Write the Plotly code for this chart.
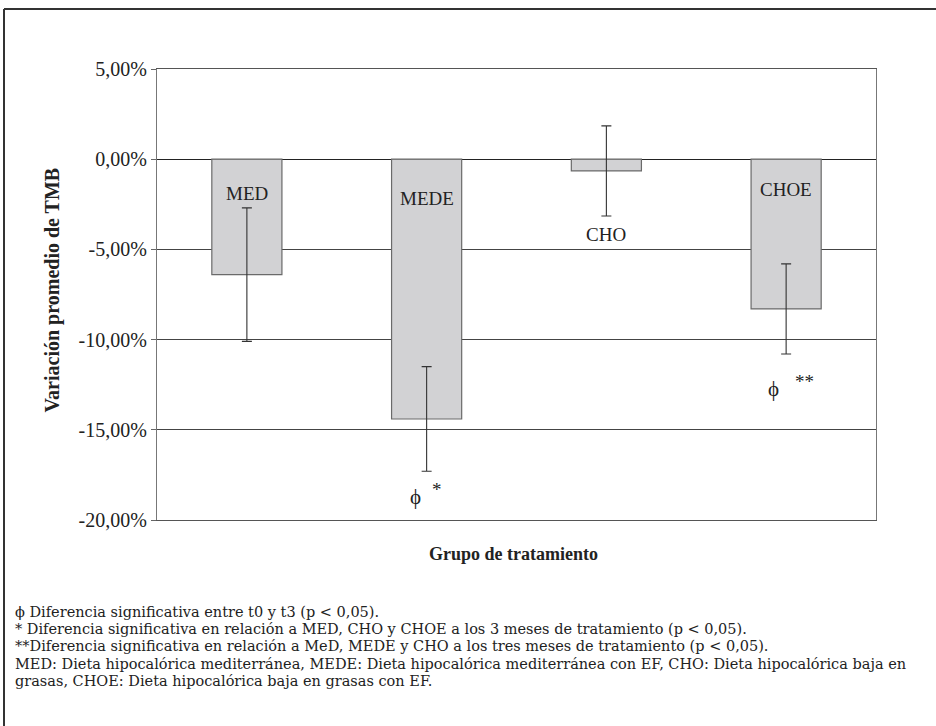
import plotly.graph_objects as go

# Mean change in basal metabolic rate (TMB) per treatment group, in %
grupos = ["MED", "MEDE", "CHO", "CHOE"]
variacion = [-6.4, -14.4, -0.65, -8.3]
error = [3.7, 2.9, 2.5, 2.5]

# Label heights (in % units) for the group names
label_y = [-1.9, -2.2, -4.15, -1.7]

y_ticks = [5, 0, -5, -10, -15, -20]
y_tick_text = ["5,00%", "0,00%", "-5,00%", "-10,00%", "-15,00%", "-20,00%"]

notas = [
    "ϕ Diferencia significativa entre t0 y t3 (p < 0,05).",
    "* Diferencia significativa en relación a MED, CHO y CHOE a los 3 meses de tratamiento (p < 0,05).",
    "**Diferencia significativa en relación a MeD, MEDE y CHO a los tres meses de tratamiento (p < 0,05).",
    "MED: Dieta hipocalórica mediterránea, MEDE: Dieta hipocalórica mediterránea con EF, CHO: Dieta hipocalórica baja en",
    "grasas, CHOE: Dieta hipocalórica baja en grasas con EF.",
]

FONT = "Liberation Serif"
NOTE_FONT = "DejaVu Serif"
W, H = 936, 726
L, R, T, B = 157, 60, 69, 206
pw, ph = W - L - R, H - T - B


def px(x):
    return (x - L) / pw


def py(y):
    return (H - B - y) / ph


fig = go.Figure()
fig.add_trace(go.Bar(
    x=grupos, y=variacion,
    marker=dict(color="#d2d2d4", line=dict(color="#6a6a6a", width=1.2)),
    error_y=dict(type="data", array=error, visible=True,
                 color="#333333", thickness=1.1, width=5),
    width=0.39,
))

annotations = []
for g, yl in zip(grupos, label_y):
    annotations.append(dict(x=g, y=yl, xref="x", yref="y", text=g,
                            showarrow=False, font=dict(family=FONT, size=19, color="#222")))

# significance markers
annotations += [
    dict(x=0.94, y=-18.75, xref="x", yref="y", text="ϕ", showarrow=False,
         font=dict(family=FONT, size=21, color="#222")),
    dict(x=1.06, y=-18.3, xref="x", yref="y", text="*", showarrow=False,
         font=dict(family=FONT, size=19, color="#222")),
    dict(x=2.93, y=-12.75, xref="x", yref="y", text="ϕ", showarrow=False,
         font=dict(family=FONT, size=21, color="#222")),
    dict(x=3.10, y=-12.3, xref="x", yref="y", text="**", showarrow=False,
         font=dict(family=FONT, size=19, color="#222")),
]

# axis titles
annotations.append(dict(x=px(38), y=py(290), xref="paper", yref="paper",
                        text="<b>Variación promedio de TMB</b>", textangle=-90,
                        showarrow=False, font=dict(family=FONT, size=20, color="#222")))
annotations.append(dict(x=px(513), y=py(566), xref="paper", yref="paper",
                        text="<b>Grupo de tratamiento</b>",
                        showarrow=False, font=dict(family=FONT, size=18, color="#222")))

# footnotes
for i, nota in enumerate(notas):
    annotations.append(dict(x=px(13), y=py(612 + 17.2 * i), xref="paper", yref="paper",
                            text=nota, xanchor="left", yanchor="middle",
                            showarrow=False, font=dict(family=NOTE_FONT, size=14.5, color="#222")))

shapes = [
    # outer frame (left and top edges)
    dict(type="line", xref="paper", yref="paper", x0=px(4), x1=px(4), y0=py(9), y1=py(726),
         line=dict(color="#333", width=2)),
    dict(type="line", xref="paper", yref="paper", x0=px(4), x1=px(936), y0=py(9), y1=py(9),
         line=dict(color="#333", width=2)),
]

fig.update_layout(
    width=W, height=H,
    margin=dict(l=L, r=R, t=T, b=B),
    paper_bgcolor="white", plot_bgcolor="white",
    showlegend=False,
    font=dict(family=FONT, color="#222"),
    annotations=annotations,
    shapes=shapes,
    xaxis=dict(showticklabels=False, ticks="", showgrid=False,
               showline=True, linecolor="#555", linewidth=1.2, mirror=True,
               range=[-0.5, 3.5]),
    yaxis=dict(range=[-20, 5], tickvals=y_ticks, ticktext=y_tick_text,
               tickfont=dict(family=FONT, size=20, color="#222"),
               ticks="outside", ticklen=5, tickcolor="#666",
               showgrid=True, gridcolor="#444", gridwidth=1,
               zeroline=True, zerolinecolor="#222", zerolinewidth=1.2,
               showline=True, linecolor="#777", linewidth=1.2, mirror=True),
    bargap=0.61,
)

fig.write_html("out.html")
